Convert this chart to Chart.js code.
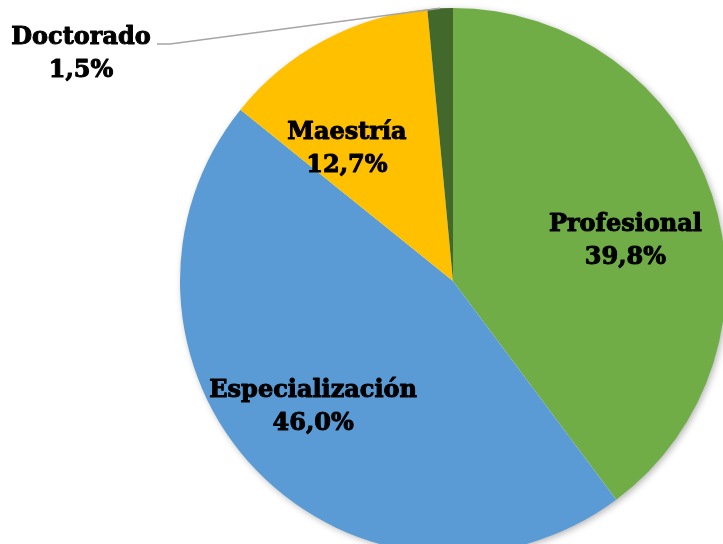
<!DOCTYPE html>
<html>
<head>
<meta charset="utf-8">
<script src="https://cdn.jsdelivr.net/npm/chart.js@4/dist/chart.umd.min.js"></script>
<style>
  html, body { margin: 0; padding: 0; background: #fff; }
  body { width: 723px; height: 544px; overflow: hidden; position: relative; }
  #pie { position: absolute; left: 0; top: 0; }
</style>
</head>
<body>
<canvas id="pie" width="800" height="570"></canvas>
<script>
const categories = ['Profesional', 'Especialización', 'Maestría', 'Doctorado'];
const shares = [39.8, 46.0, 12.7, 1.5];
const sliceColors = ['#70AD47', '#5B9BD5', '#FFC000', '#43682B'];
const labelFont = 'bold 24px "DejaVu Serif"';
// small pixel nudges so labels sit where excel put them
const labelNudge = [[4, 16], [-12, 3], [-22, 24], [0, 0]];

const fmt = (v) => v.toFixed(1).replace('.', ',') + '%';

// soft shadow only round the outside of the pie
const shadowPlugin = {
  id: 'pieShadow',
  beforeDatasetsDraw(chart) {
    const arc = chart.getDatasetMeta(0).data[0];
    if (!arc) return;
    const ctx = chart.ctx;
    ctx.save();
    ctx.shadowColor = 'rgba(0,0,0,0.3)';
    ctx.shadowBlur = 7;
    ctx.shadowOffsetX = 2;
    ctx.shadowOffsetY = 2;
    ctx.fillStyle = '#fff';
    ctx.beginPath();
    ctx.arc(arc.x, arc.y, arc.outerRadius - 0.5, 0, Math.PI * 2);
    ctx.fill();
    ctx.restore();
  }
};

const labelPlugin = {
  id: 'sliceLabels',
  afterDraw(chart) {
    const ctx = chart.ctx;
    const meta = chart.getDatasetMeta(0);
    ctx.save();
    ctx.font = labelFont;
    ctx.fillStyle = '#000';
    ctx.strokeStyle = '#000';
    ctx.lineWidth = 1;
    ctx.lineJoin = 'round';
    ctx.textAlign = 'center';
    ctx.textBaseline = 'middle';
    const put = (txt, x, y) => {
      ctx.strokeText(txt, x, y);
      ctx.fillText(txt, x, y);
    };
    meta.data.forEach((arc, i) => {
      const mid = (arc.startAngle + arc.endAngle) / 2;
      const r = arc.outerRadius;
      if (shares[i] < 5) {
        // tiny slice: label outside with a leader line
        const ex = arc.x + Math.cos(mid) * r;
        const ey = arc.y + Math.sin(mid) * r;
        const tx = 81, ty = 38;
        ctx.save();
        ctx.strokeStyle = '#A6A6A6';
        ctx.lineWidth = 1.5;
        ctx.beginPath();
        ctx.moveTo(157, 44);
        ctx.lineTo(170, 44);
        ctx.lineTo(ex, ey);
        ctx.stroke();
        ctx.restore();
        put(categories[i], tx, ty);
        put(fmt(shares[i]), tx, ty + 33);
        return;
      }
      const k = 0.65;
      const cx = arc.x + Math.cos(mid) * r * k + labelNudge[i][0];
      const cy = arc.y + Math.sin(mid) * r * k + labelNudge[i][1];
      put(categories[i], cx, cy - 16);
      put(fmt(shares[i]), cx, cy + 17);
    });
    ctx.restore();
  }
};

new Chart(document.getElementById('pie'), {
  type: 'pie',
  data: {
    labels: categories,
    datasets: [{
      data: shares,
      backgroundColor: sliceColors,
      borderWidth: 0,
      hoverOffset: 0,
      offset: 0
    }]
  },
  options: {
    responsive: false,
    animation: false,
    events: [],
    layout: { padding: { left: 180, top: 8, right: 74, bottom: 16 } },
    plugins: {
      legend: { display: false },
      tooltip: { enabled: false }
    }
  },
  plugins: [shadowPlugin, labelPlugin]
});
</script>
</body>
</html>
